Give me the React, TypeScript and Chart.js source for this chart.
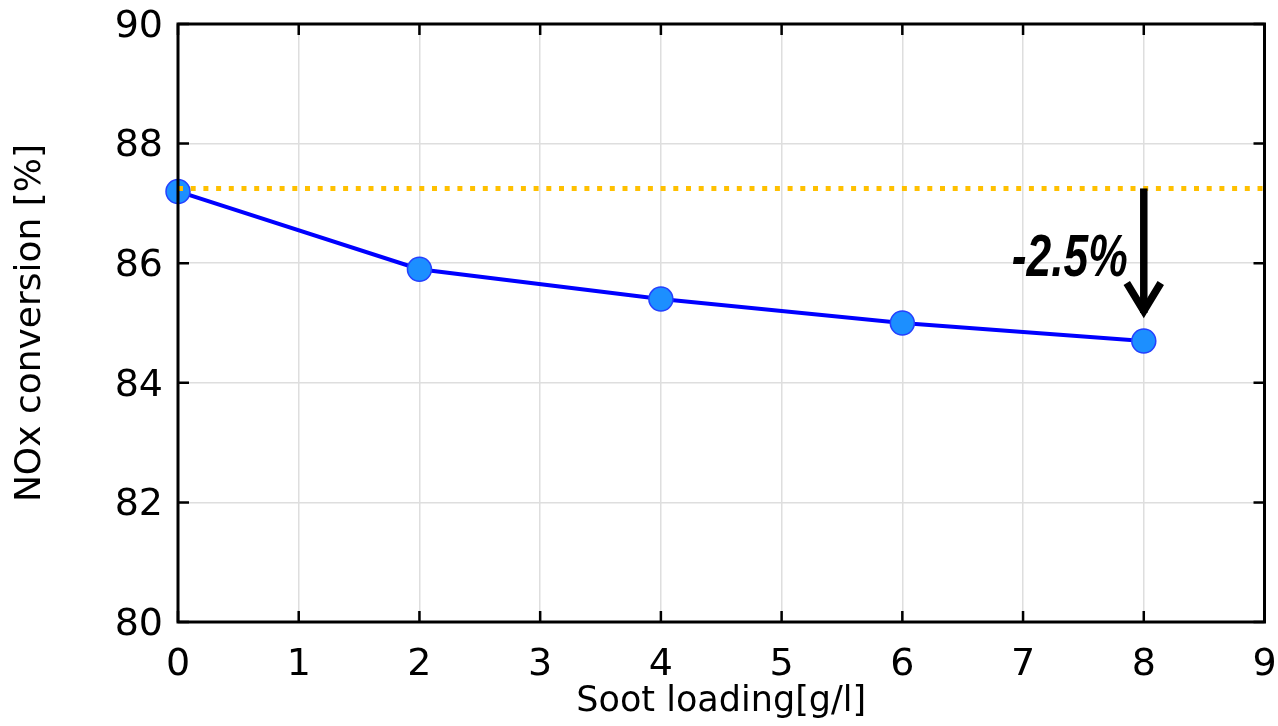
import React, { useEffect, useRef } from "react";
import { Chart, registerables } from "chart.js";

Chart.register(...registerables);

// Measured NOx conversion against soot loading
const sootLoading = [0, 2, 4, 6, 8];
const noxConversion = [87.2, 85.9, 85.4, 85.0, 84.7];

// Clean-catalyst reference level, drawn across the whole x range
const referenceLevel = 87.25;
const referenceSpan = [0, 9];

// Axis ranges and steps
const xRange = [0, 9];
const xStep = 1;
const yRange = [80, 90];
const yStep = 2;

// Drop annotation at the highest loading
const dropX = 8;
const dropFrom = 87.25;
const dropTo = 85.1;
const dropLabel = "-2.5%";

const xTitle = "Soot loading[g/l]";
const yTitle = "NOx conversion [%]";

const FONT = "'DejaVu Sans', 'Liberation Sans', sans-serif";

const framePlugin = {
  id: "frameAndTicks",
  afterDatasetsDraw(chart: any) {
    const { ctx, chartArea: a, scales } = chart;
    ctx.save();
    ctx.strokeStyle = "#000";
    ctx.lineWidth = 2.5;
    ctx.beginPath();
    scales.x.ticks.forEach((t: any) => {
      const px = scales.x.getPixelForValue(t.value);
      ctx.moveTo(px, a.bottom);
      ctx.lineTo(px, a.bottom - 11);
      ctx.moveTo(px, a.top);
      ctx.lineTo(px, a.top + 11);
    });
    scales.y.ticks.forEach((t: any) => {
      const py = scales.y.getPixelForValue(t.value);
      ctx.moveTo(a.left, py);
      ctx.lineTo(a.left + 11, py);
      ctx.moveTo(a.right, py);
      ctx.lineTo(a.right - 11, py);
    });
    ctx.stroke();
    ctx.lineWidth = 3;
    ctx.strokeRect(a.left, a.top, a.right - a.left, a.bottom - a.top);
    ctx.restore();
  },
};

const dropPlugin = {
  id: "dropArrow",
  afterDraw(chart: any) {
    const { ctx, scales } = chart;
    const x = scales.x.getPixelForValue(dropX);
    const y0 = scales.y.getPixelForValue(dropFrom);
    const y1 = scales.y.getPixelForValue(dropTo);
    ctx.save();
    ctx.strokeStyle = "#000";
    ctx.lineWidth = 7.5;
    ctx.lineCap = "butt";
    ctx.beginPath();
    ctx.moveTo(x, y0);
    ctx.lineTo(x, y1 - 4);
    ctx.stroke();
    ctx.lineJoin = "miter";
    ctx.beginPath();
    ctx.moveTo(x - 17, y1 - 34);
    ctx.lineTo(x, y1 - 6);
    ctx.lineTo(x + 17, y1 - 34);
    ctx.stroke();

    ctx.fillStyle = "#000";
    ctx.font = "italic bold 60px 'Liberation Sans Narrow', 'Liberation Sans', sans-serif";
    ctx.textAlign = "left";
    ctx.textBaseline = "alphabetic";
    const w = ctx.measureText(dropLabel).width;
    const targetW = 116;
    const sx = Math.min(1, targetW / w);
    const right = x - 16;
    const base = (y0 + y1) / 2 + 23;
    ctx.translate(right - targetW, base);
    ctx.scale(sx, 1);
    ctx.fillText(dropLabel, 0, 0);
    ctx.restore();
  },
};

export default function App() {
  const canvasRef = useRef<HTMLCanvasElement | null>(null);

  useEffect(() => {
    document.body.style.margin = "0";
    const canvas = canvasRef.current;
    if (!canvas) return;
    const chart = new Chart(canvas, {
      type: "line",
      data: {
        datasets: [
          {
            label: "reference",
            data: referenceSpan.map((x) => ({ x, y: referenceLevel })),
            borderColor: "#ffc000",
            borderWidth: 5,
            borderDash: [5, 7.7],
            borderCapStyle: "butt",
            pointRadius: 0,
            fill: false,
            order: 0,
          },
          {
            label: "NOx conversion",
            data: sootLoading.map((x, i) => ({ x, y: noxConversion[i] })),
            borderColor: "#0000ff",
            borderWidth: 4,
            pointRadius: 12,
            pointBackgroundColor: "#1c8fff",
            pointBorderColor: "#2540ff",
            pointBorderWidth: 1.5,
            tension: 0,
            fill: false,
            clip: false,
            order: 1,
          },
        ],
      },
      options: {
        animation: false,
        responsive: true,
        maintainAspectRatio: false,
        layout: { padding: { top: 24, right: 13, left: 0, bottom: 0 } },
        plugins: { legend: { display: false }, tooltip: { enabled: false } },
        scales: {
          x: {
            type: "linear",
            min: xRange[0],
            max: xRange[1],
            ticks: {
              stepSize: xStep,
              color: "#000",
              font: { family: FONT, size: 38 },
              padding: 20,
              maxRotation: 0,
            },
            grid: { color: "#dedede", lineWidth: 1.5, drawTicks: false },
            border: { display: false },
            title: {
              display: true,
              text: xTitle,
              color: "#000",
              font: { family: FONT, size: 35 },
              padding: { top: 0, bottom: 3 },
            },
            afterFit(scale: any) {
              scale.height = 104;
              scale.paddingLeft = 0;
              scale.paddingRight = 0;
            },
          },
          y: {
            type: "linear",
            min: yRange[0],
            max: yRange[1],
            ticks: {
              stepSize: yStep,
              color: "#000",
              font: { family: FONT, size: 38 },
              padding: 15,
              labelOffset: 3,
            },
            grid: { color: "#dedede", lineWidth: 1.5, drawTicks: false },
            border: { display: false },
            title: {
              display: true,
              text: yTitle,
              color: "#000",
              font: { family: FONT, size: 36 },
              padding: { top: 9, bottom: 0 },
            },
            afterFit(scale: any) {
              scale.width = 178;
              scale.paddingTop = 0;
              scale.paddingBottom = 0;
            },
          },
        },
      },
      plugins: [framePlugin, dropPlugin],
    } as any);
    return () => chart.destroy();
  }, []);

  return (
    <div style={{ width: 1278, height: 726, position: "relative" }}>
      <canvas ref={canvasRef} />
    </div>
  );
}
